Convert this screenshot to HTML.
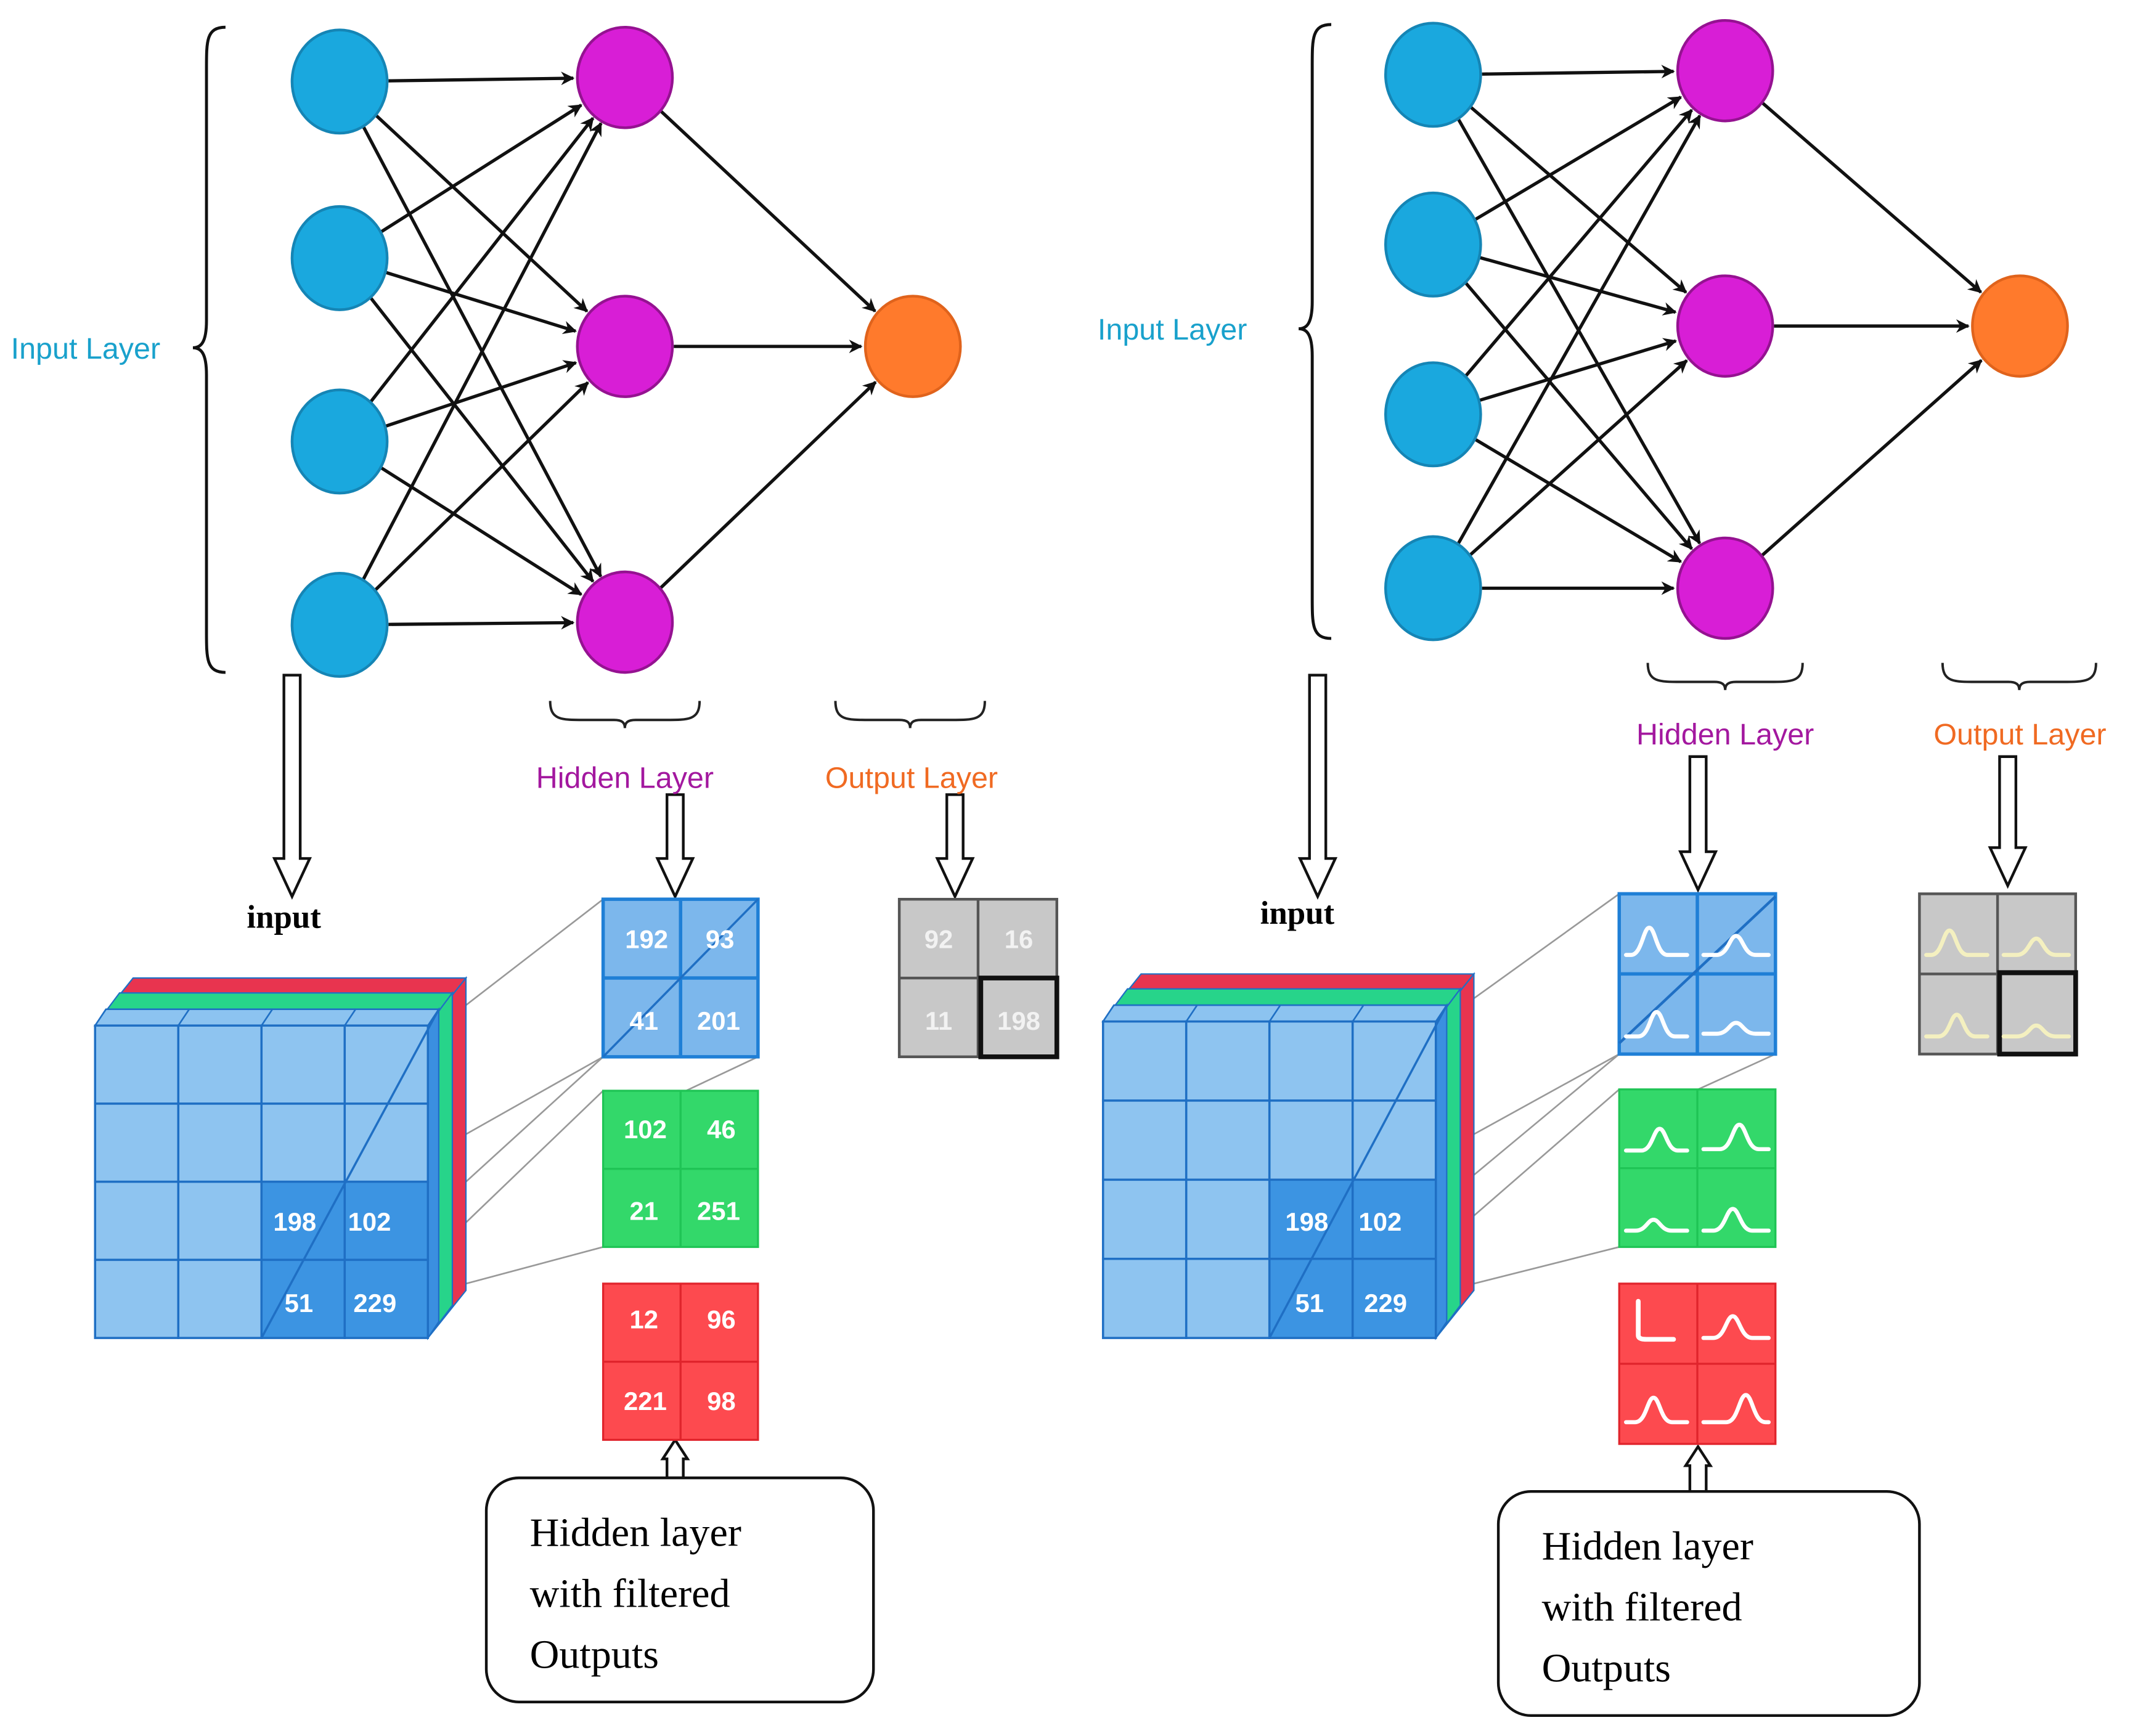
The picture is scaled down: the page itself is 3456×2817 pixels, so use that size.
<!DOCTYPE html>
<html><head><meta charset="utf-8"><style>
html,body{margin:0;padding:0;background:#fff;}
svg{display:block;}
.lbl{font-family:"Liberation Sans",sans-serif;font-size:22px;}
.num{font-family:"Liberation Sans",sans-serif;font-size:19px;font-weight:bold;fill:#fff;text-anchor:middle;}
.ser{font-family:"Liberation Serif",serif;}
</style></head><body>
<svg id="s" width="3456" height="2817" viewBox="0 0 1568 1278" xmlns="http://www.w3.org/2000/svg">
<defs>
<marker id="ah" markerWidth="10" markerHeight="10" refX="9" refY="5" orient="auto" markerUnits="userSpaceOnUse" viewBox="0 0 10 10">
<path d="M0,0 L10,5 L0,10 L3,5 z" fill="#111"/></marker>
</defs>
<g id="g"></g>
<text class="lbl" x="8" y="264" fill="#19a1cc">Input Layer</text>
<text class="lbl" x="460" y="580" fill="#a3189f" text-anchor="middle">Hidden Layer</text>
<text class="lbl" x="671" y="580" fill="#f06a22" text-anchor="middle">Output Layer</text>
<text class="ser" x="209" y="683" font-size="24" font-weight="bold" text-anchor="middle">input</text>
<text class="lbl" x="808" y="250" fill="#19a1cc">Input Layer</text>
<text class="lbl" x="1270" y="548" fill="#a3189f" text-anchor="middle">Hidden Layer</text>
<text class="lbl" x="1487" y="548" fill="#f06a22" text-anchor="middle">Output Layer</text>
<text class="ser" x="955" y="680" font-size="24" font-weight="bold" text-anchor="middle">input</text>
<g id="top"></g>
<text class="num" x="476" y="698">192</text><text class="num" x="530" y="698">93</text>
<text class="num" x="474" y="758">41</text><text class="num" x="529" y="758">201</text>
<text class="num" x="475" y="838">102</text><text class="num" x="531" y="838">46</text>
<text class="num" x="474" y="898">21</text><text class="num" x="529" y="898">251</text>
<text class="num" x="474" y="978">12</text><text class="num" x="531" y="978">96</text>
<text class="num" x="475" y="1038">221</text><text class="num" x="531" y="1038">98</text>
<text class="num" x="691" y="698" style="fill:#f2f2f2">92</text><text class="num" x="750" y="698" style="fill:#f2f2f2">16</text>
<text class="num" x="691" y="758" style="fill:#f2f2f2">11</text><text class="num" x="750" y="758" style="fill:#f2f2f2">198</text>
<text class="num" x="217" y="906">198</text><text class="num" x="272" y="906">102</text>
<text class="num" x="220" y="966">51</text><text class="num" x="276" y="966">229</text>
<text class="num" x="962" y="906">198</text><text class="num" x="1016" y="906">102</text>
<text class="num" x="964" y="966">51</text><text class="num" x="1020" y="966">229</text>
<rect x="358" y="1088" width="285" height="165" rx="24" fill="#fff" stroke="#111" stroke-width="2"/>
<text class="ser" x="390" y="1138" font-size="30">Hidden layer</text>
<text class="ser" x="390" y="1183" font-size="30">with filtered</text>
<text class="ser" x="390" y="1228" font-size="30">Outputs</text>
<rect x="1103" y="1098" width="310" height="165" rx="24" fill="#fff" stroke="#111" stroke-width="2"/>
<text class="ser" x="1135" y="1148" font-size="30">Hidden layer</text>
<text class="ser" x="1135" y="1193" font-size="30">with filtered</text>
<text class="ser" x="1135" y="1238" font-size="30">Outputs</text>
</svg>
<script>
const NS="http://www.w3.org/2000/svg";
const g=document.getElementById('g');
function el(t,a,p){const e=document.createElementNS(NS,t);for(const k in a)e.setAttribute(k,a[k]);(p||g).appendChild(e);return e;}
function arrow(x1,y1,x2,y2,r){const dx=x2-x1,dy=y2-y1,L=Math.hypot(dx,dy);const ux=dx/L,uy=dy/L;
 el('line',{x1:x1+ux*r,y1:y1+uy*r,x2:x2-ux*(r+2),y2:y2-uy*(r+2),stroke:'#111','stroke-width':2.4,'marker-end':'url(#ah)'});}
function net(I,H,O){
 I.forEach(a=>H.forEach(b=>arrow(a[0],a[1],b[0],b[1],36)));
 H.forEach(b=>arrow(b[0],b[1],O[0],O[1],36));
 I.forEach(a=>el('ellipse',{cx:a[0],cy:a[1],rx:35,ry:38,fill:'#1aa8de',stroke:'#1585b5','stroke-width':2}));
 H.forEach(a=>el('ellipse',{cx:a[0],cy:a[1],rx:35,ry:37,fill:'#d81ed6',stroke:'#951291','stroke-width':2}));
 el('ellipse',{cx:O[0],cy:O[1],rx:35,ry:37,fill:'#ff7a2c',stroke:'#e0631c','stroke-width':2});
}
net([[250,60],[250,190],[250,325],[250,460]],[[460,57],[460,255],[460,458]],[672,255]);
net([[1055,55],[1055,180],[1055,305],[1055,433]],[[1270,52],[1270,240],[1270,433]],[1487,240]);
function brace(x,y1,y2,tipY){const w=14;
 el('path',{d:`M${x+w},${y1} C${x},${y1} ${x},${y1+10} ${x},${y1+30} L${x},${tipY-20} C${x},${tipY-4} ${x-4},${tipY} ${x-10},${tipY} C${x-4},${tipY} ${x},${tipY+4} ${x},${tipY+20} L${x},${y2-30} C${x},${y2-10} ${x},${y2} ${x+w},${y2}`,fill:'none',stroke:'#111','stroke-width':2.2});}
brace(152,20,495,256);brace(966,18,470,242);
function hbrace(x1,x2,y){const m=(x1+x2)/2;
 el('path',{d:`M${x1},${y-14} C${x1},${y} ${x1+8},${y} ${x1+25},${y} L${m-8},${y} C${m-2},${y} ${m},${y+2} ${m},${y+6} C${m},${y+2} ${m+2},${y} ${m+8},${y} L${x2-25},${y} C${x2-8},${y} ${x2},${y} ${x2},${y-14}`,fill:'none',stroke:'#222','stroke-width':1.8});}
hbrace(405,515,530);hbrace(615,725,530);hbrace(1213,1327,502);hbrace(1430,1543,502);
function hollow(x,y1,y2,up){const sw=6,hw=13,hl=28;let d;
 if(!up) d=`M${x-sw},${y1} L${x+sw},${y1} L${x+sw},${y2-hl} L${x+hw},${y2-hl} L${x},${y2} L${x-hw},${y2-hl} L${x-sw},${y2-hl} Z`;
 else d=`M${x-sw},${y1} L${x+sw},${y1} L${x+sw},${y2+hl*0.5} L${x+hw*0.7},${y2+hl*0.5} L${x},${y2} L${x-hw*0.7},${y2+hl*0.5} L${x-sw},${y2+hl*0.5} Z`;
 el('path',{d,fill:'#fff',stroke:'#111','stroke-width':2});}
hollow(215,497,660);hollow(497,585,660);hollow(703,585,660);hollow(497,1088,1060,true);
hollow(970,497,660);hollow(1250,557,655);hollow(1478,557,652);hollow(1250,1098,1065,true);
function cube(x0,y0,w,h){const cw=w/4,ch=h/4;
 const layers=[[28,-35,'#e8344f'],[18,-24,'#27d48a'],[8,-12,'#3b8fe0']];
 layers.forEach(([dx,dy,c])=>{
  el('polygon',{points:`${x0},${y0} ${x0+dx},${y0+dy} ${x0+w+dx},${y0+dy} ${x0+w},${y0}`,fill:c,stroke:'#1f6fc4','stroke-width':1});
  el('polygon',{points:`${x0+w},${y0} ${x0+w+dx},${y0+dy} ${x0+w+dx},${y0+h+dy} ${x0+w},${y0+h}`,fill:c,stroke:'#1f6fc4','stroke-width':1});
 });
 el('polygon',{points:`${x0},${y0} ${x0+8},${y0-12} ${x0+w+8},${y0-12} ${x0+w},${y0}`,fill:'#8cc3f0',stroke:'#1f6fc4','stroke-width':1.2});
 for(let i=1;i<4;i++)el('line',{x1:x0+i*cw,y1:y0,x2:x0+i*cw+8,y2:y0-12,stroke:'#1f6fc4','stroke-width':1.2});
 for(let r=0;r<4;r++)for(let c=0;c<4;c++){
  el('rect',{x:x0+c*cw,y:y0+r*ch,width:cw,height:ch,fill:(r>=2&&c>=2)?'#3c94e2':'#8ec4f0',stroke:'#1f6fc4','stroke-width':1.6});}
 el('line',{x1:x0+2*cw,y1:y0+h,x2:x0+w+8,y2:y0-12,stroke:'#1f6fc4','stroke-width':1.6});
}
function conn(pts){pts.forEach(p=>el('line',{x1:p[0],y1:p[1],x2:p[2],y2:p[3],stroke:'#999','stroke-width':1.2}));}
conn([[343,740,444,662],[343,870,444,778],[343,835,444,778],[343,900,444,803],[343,945,444,918],[505,803,558,778]]);
conn([[1085,735,1192,658],[1085,865,1192,776],[1085,835,1192,776],[1085,895,1192,802],[1085,945,1192,918],[1250,802,1307,776]]);
cube(70,755,245,230);cube(812,752,245,233);
function grid(x,y,w,h,fill,line,lw){el('rect',{x,y,width:w,height:h,fill,stroke:line,'stroke-width':lw});
 el('line',{x1:x+w/2,y1:y,x2:x+w/2,y2:y+h,stroke:line,'stroke-width':lw});
 el('line',{x1:x,y1:y+h/2,x2:x+w,y2:y+h/2,stroke:line,'stroke-width':lw});}
grid(444,662,114,116,'#7cb7ec','#1f7fd6',2.5);el('line',{x1:444,y1:778,x2:558,y2:662,stroke:'#1f6fc4','stroke-width':1.6});
grid(444,803,114,115,'#33d86a','#1fc455',1.5);
grid(444,945,114,115,'#fd4a4f','#e0242c',1.5);
grid(662,662,116,116,'#c8c8c8','#555',2);
el('rect',{x:722,y:720,width:56,height:58,fill:'none',stroke:'#111','stroke-width':3.5});
grid(1192,658,115,118,'#7cb7ec','#1f7fd6',2.5);el('line',{x1:1192,y1:768,x2:1307,y2:660,stroke:'#1f6fc4','stroke-width':2});
grid(1192,802,115,116,'#33d86a','#1fc455',1.5);
grid(1192,945,115,118,'#fd4a4f','#e0242c',1.5);
grid(1413,658,115,118,'#c8c8c8','#555',2);
el('rect',{x:1472,y:716,width:56,height:60,fill:'none',stroke:'#111','stroke-width':3.5});
function bump(x,y,w,hgt,pk,col){
 const p=x+w*pk;
 el('path',{d:`M${x},${y} L${p-w*0.3},${y} C${p-w*0.12},${y} ${p-w*0.1},${y-hgt} ${p},${y-hgt} C${p+w*0.1},${y-hgt} ${p+w*0.12},${y} ${p+w*0.3},${y} L${x+w},${y}`,fill:'none',stroke:col,'stroke-width':3,'stroke-linecap':'round'});}
function bumps(x,y,col,set){set.forEach(b=>bump(x+b[0],y+b[1],b[2],b[3],b[4],col));}
bumps(1192,658,'#fff',[[5,45,45,20,0.38],[62,45,48,14,0.5],[5,105,45,18,0.5],[62,103,48,8,0.5]]);
bumps(1192,802,'#fff',[[5,45,45,16,0.55],[62,44,48,18,0.55],[5,104,45,8,0.45],[62,104,48,16,0.45]]);
bumps(1192,945,'#fff',[[62,40,48,16,0.45],[5,102,45,18,0.45],[62,102,48,20,0.65]]);
el('path',{d:'M1206,958 L1206,983 Q1206,986 1212,986 L1232,986',fill:'none',stroke:'#fff','stroke-width':3.5,'stroke-linecap':'round'});
bumps(1413,658,'#f4f0c0',[[5,45,45,18,0.38],[62,45,48,12,0.5],[5,105,45,16,0.5],[62,105,48,8,0.5]]);
</script>
</body></html>
